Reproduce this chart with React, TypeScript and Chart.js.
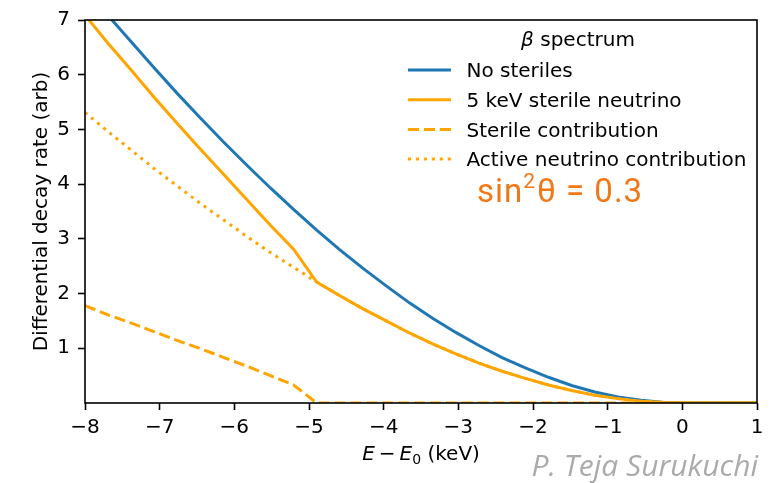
import { useEffect, useRef } from 'react';
import { Chart, registerables } from 'chart.js';

Chart.register(...registerables);

// E - E0 (keV) sample points
const energies = [
  -8.0, -7.69, -7.379, -7.069, -6.759, -6.448, -6.138, -5.828, -5.517, -5.207,
  -4.897, -4.586, -4.276, -3.966, -3.655, -3.345, -3.034, -2.724, -2.414, -2.103,
  -1.793, -1.483, -1.172, -0.862, -0.552, -0.241, 0.069, 0.379, 0.69, 1.0,
];

const noSteriles = [
  7.58, 7.08, 6.6, 6.12, 5.65, 5.2, 4.76, 4.34, 3.93, 3.54,
  3.16, 2.8, 2.46, 2.14, 1.83, 1.55, 1.29, 1.05, 0.83, 0.64,
  0.47, 0.32, 0.2, 0.11, 0.05, 0.01, 0, 0, 0, 0,
];

const sterileNeutrino5keV = [
  7.09, 6.57, 6.08, 5.58, 5.1, 4.63, 4.17, 3.71, 3.25, 2.81,
  2.21, 1.96, 1.72, 1.5, 1.28, 1.08, 0.9, 0.73, 0.58, 0.45,
  0.33, 0.23, 0.14, 0.08, 0.03, 0.01, 0, 0, 0, 0,
];

const sterileContribution = [
  1.78, 1.61, 1.46, 1.3, 1.14, 0.99, 0.83, 0.67, 0.5, 0.33,
  0, 0, 0, 0, 0, 0, 0, 0, 0, 0,
  0, 0, 0, 0, 0, 0, 0, 0, 0, 0,
];

const activeContribution = [
  5.31, 4.96, 4.62, 4.28, 3.96, 3.64, 3.34, 3.04, 2.75, 2.48,
  2.21, 1.96, 1.72, 1.5, 1.28, 1.08, 0.9, 0.73, 0.58, 0.45,
  0.33, 0.23, 0.14, 0.08, 0.03, 0.01, 0, 0, 0, 0,
];

const seriesLabels = [
  'No steriles',
  '5 keV sterile neutrino',
  'Sterile contribution',
  'Active neutrino contribution',
];

const legendTitle = 'spectrum';
const mixingText = '0.3';
const watermark = 'P. Teja Surukuchi';
const yTitle = 'Differential decay rate (arb)';

const FONT = "'DejaVu Sans', sans-serif";
const BLUE = '#1f77b4';
const ORANGE = '#ffa500';

const toPoints = (ys: number[]) => energies.map((x, i) => ({ x, y: ys[i] }));

const overlay = {
  id: 'overlay',
  afterDraw(chart: any) {
    const { ctx, chartArea: a } = chart;
    ctx.save();
    // frame
    ctx.strokeStyle = '#000';
    ctx.lineWidth = 1.6;
    ctx.setLineDash([]);
    ctx.strokeRect(a.left, a.top, a.right - a.left, a.bottom - a.top);

    ctx.fillStyle = '#000';
    // y title
    ctx.save();
    ctx.font = `20px ${FONT}`;
    ctx.translate(46.5, (a.top + a.bottom) / 2);
    ctx.rotate(-Math.PI / 2);
    ctx.textAlign = 'center';
    ctx.textBaseline = 'alphabetic';
    ctx.fillText(yTitle, 0, 0);
    ctx.restore();

    // x title: E − E0 (keV)
    const pieces = [
      { t: 'E', f: `italic 20px ${FONT}`, dy: 0 },
      { t: '\u2009\u2212\u2009', f: `20px ${FONT}`, dy: 0 },
      { t: 'E', f: `italic 20px ${FONT}`, dy: 0 },
      { t: '0', f: `14px ${FONT}`, dy: 4 },
      { t: ' (keV)', f: `20px ${FONT}`, dy: 0 },
    ];
    let total = 0;
    const widths = pieces.map((p) => {
      ctx.font = p.f;
      const w = ctx.measureText(p.t).width;
      total += w;
      return w;
    });
    let xx = (a.left + a.right) / 2 - total / 2;
    ctx.textAlign = 'left';
    ctx.textBaseline = 'alphabetic';
    pieces.forEach((p, i) => {
      ctx.font = p.f;
      ctx.fillText(p.t, xx, 460 + p.dy);
      xx += widths[i];
    });

    // legend title: β spectrum
    ctx.font = `italic 20px ${FONT}`;
    const wb = ctx.measureText('\u03b2').width;
    ctx.font = `20px ${FONT}`;
    const ws = ctx.measureText(' ' + legendTitle).width;
    const tx = 578 - (wb + ws) / 2;
    ctx.font = `italic 20px ${FONT}`;
    ctx.fillText('\u03b2', tx, 46);
    ctx.font = `20px ${FONT}`;
    ctx.fillText(' ' + legendTitle, tx + wb, 46);

    // legend entries
    const ds = chart.data.datasets;
    seriesLabels.forEach((label, i) => {
      const d = ds[i];
      const ly = 70 + i * 29.7;
      ctx.save();
      ctx.strokeStyle = d.borderColor;
      ctx.lineWidth = 3;
      ctx.lineCap = 'butt';
      ctx.setLineDash(d.borderDash || []);
      ctx.beginPath();
      ctx.moveTo(408, ly);
      ctx.lineTo(451, ly);
      ctx.stroke();
      ctx.restore();
      ctx.fillStyle = '#000';
      ctx.font = `20px ${FONT}`;
      ctx.fillText(label, 466.5, ly + 7.3);
    });

    // sin^2 theta = 0.3
    ctx.save();
    ctx.fillStyle = '#f07818';
    (ctx as any).letterSpacing = '1px';
    const big = "33px Roboto, 'Open Sans', sans-serif";
    const small = "21px Roboto, 'Open Sans', sans-serif";
    let sx = 477;
    ctx.font = big;
    ctx.fillText('sin', sx, 202);
    sx += ctx.measureText('sin').width;
    ctx.font = small;
    ctx.fillText('2', sx, 188);
    sx += ctx.measureText('2').width + 1;
    ctx.font = big;
    ctx.fillText('\u03b8 = ' + mixingText, sx, 202);
    ctx.restore();

    // watermark
    ctx.fillStyle = '#ababab';
    ctx.font = "italic 30px 'Open Sans', sans-serif";
    ctx.textAlign = 'right';
    ctx.fillText(watermark, 758, 476);
    ctx.restore();
  },
};

export default function App() {
  const ref = useRef<HTMLCanvasElement>(null);
  useEffect(() => {
    if (!ref.current) return;
    const tickFont = { family: FONT, size: 20 };
    const chart = new Chart(ref.current, {
      type: 'line',
      data: {
        datasets: [
          {
            label: seriesLabels[0],
            data: toPoints(noSteriles),
            borderColor: BLUE,
            borderWidth: 3,
            order: 4,
          },
          {
            label: seriesLabels[1],
            data: toPoints(sterileNeutrino5keV),
            borderColor: ORANGE,
            borderWidth: 3,
            order: 3,
          },
          {
            label: seriesLabels[2],
            data: toPoints(sterileContribution),
            borderColor: ORANGE,
            borderWidth: 3,
            borderDash: [11.1, 4.8],
            order: 2,
          },
          {
            label: seriesLabels[3],
            data: toPoints(activeContribution),
            borderColor: ORANGE,
            borderWidth: 3,
            borderDash: [3, 4.95],
            borderCapStyle: 'butt',
            order: 1,
          },
        ],
      } as any,
      options: {
        responsive: false,
        animation: false,
        layout: { padding: { left: 0, top: 20, right: 25, bottom: 0 } },
        elements: { point: { radius: 0 }, line: { tension: 0, fill: false } },
        plugins: { legend: { display: false }, tooltip: { enabled: false } },
        scales: {
          x: {
            type: 'linear',
            min: -8,
            max: 1,
            ticks: {
              stepSize: 1,
              font: tickFont,
              color: '#000',
              padding: 6,
              maxRotation: 0,
              autoSkip: false,
              callback: (v: any) => (v < 0 ? '\u2212' + Math.abs(v) : String(v)),
            },
            grid: { drawOnChartArea: false, tickLength: 7, tickWidth: 1.6, tickColor: '#000' },
            border: { display: false },
            afterFit: (s: any) => {
              s.height = 80;
            },
          },
          y: {
            type: 'linear',
            min: 0,
            max: 7,
            ticks: { stepSize: 1, font: tickFont, color: '#000', padding: 8 },
            grid: { drawOnChartArea: false, tickLength: 7, tickWidth: 1.6, tickColor: '#000' },
            border: { display: false },
            afterBuildTicks: (s: any) => {
              s.ticks = s.ticks.filter((t: any) => t.value !== 0);
            },
            afterFit: (s: any) => {
              s.width = 85;
            },
          },
        },
      } as any,
      plugins: [overlay],
    });
    return () => chart.destroy();
  }, []);
  return (
    <div style={{ position: 'fixed', left: 0, top: 0, width: 782, height: 483, background: '#fff' }}>
      <canvas ref={ref} width={782} height={483} style={{ display: 'block' }} />
    </div>
  );
}
